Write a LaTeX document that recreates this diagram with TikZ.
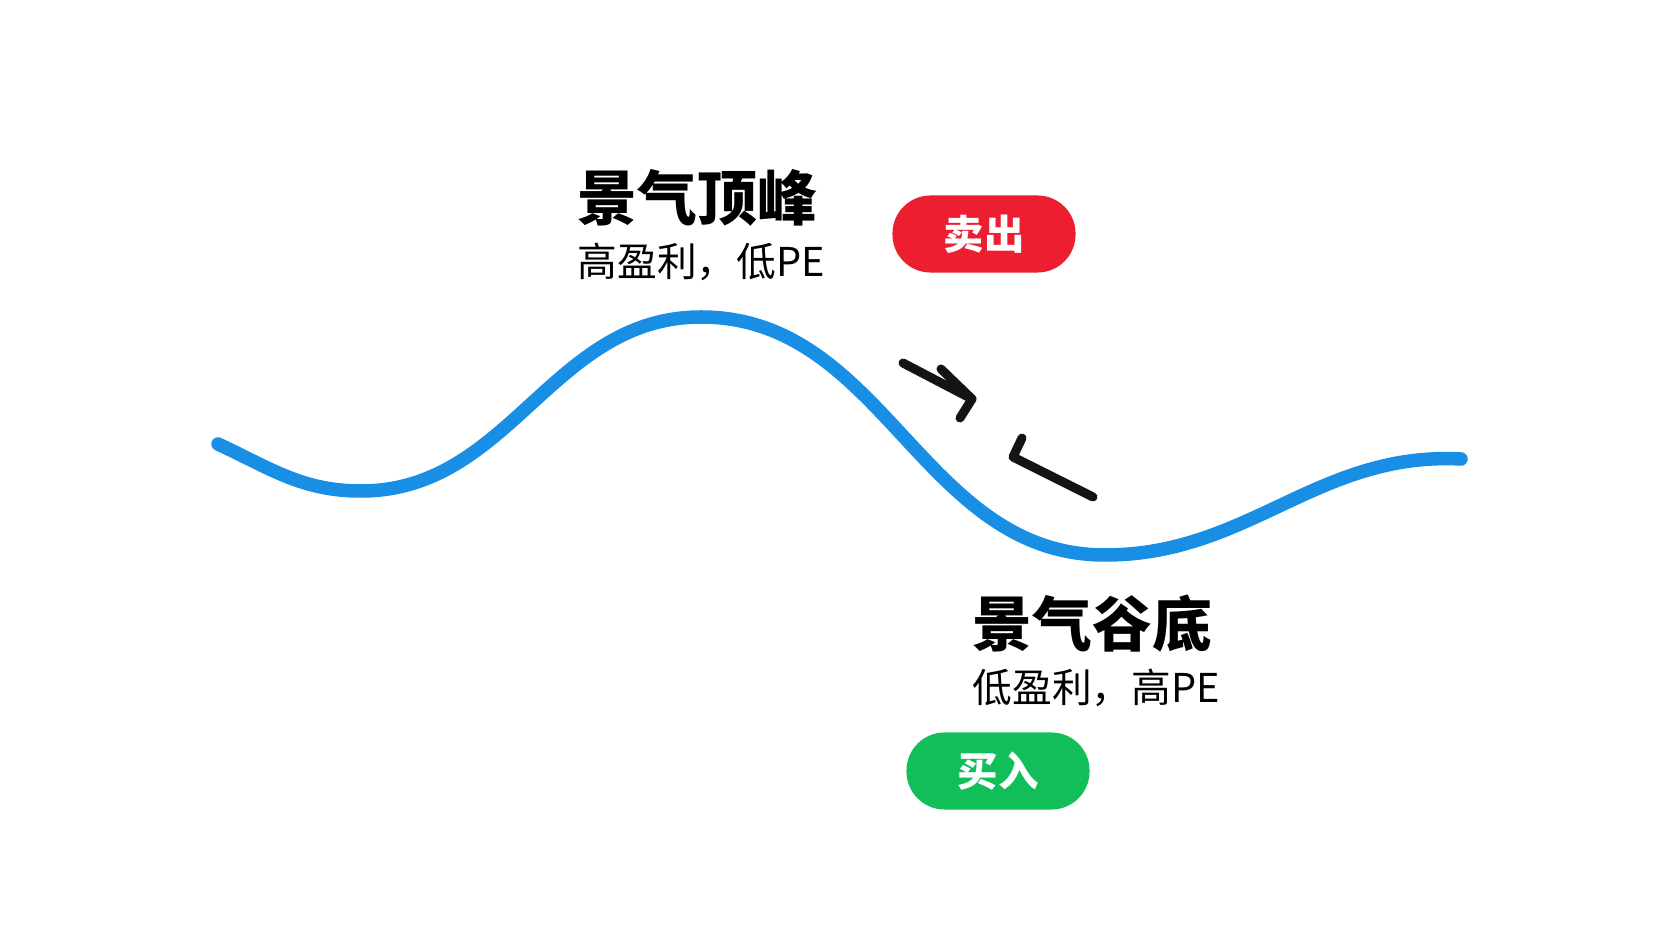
\documentclass[tikz,border=0pt]{standalone}
\usepackage{fontspec}
\newfontfamily\cjk{Noto Sans CJK SC}
\usetikzlibrary{positioning}
\definecolor{waveblue}{RGB}{24,142,228}
\definecolor{sellred}{RGB}{236,30,48}
\definecolor{buygreen}{RGB}{18,190,90}

\begin{document}
\begin{tikzpicture}[
x=0.01cm, y=-0.01cm,
wave/.style = {draw=waveblue, line width=1.35mm, line cap=round},
title/.style = {anchor=west, inner sep=0pt,
                font=\cjk\bfseries\fontsize{17}{20}\selectfont},
sub/.style = {inner sep=0pt,
              font=\cjk\fontsize{11.3}{14}\selectfont},
pill/.style = {fill=#1, rounded corners=3.8mm, text=white,
               minimum width=1.83cm, minimum height=0.77cm, inner sep=0pt,
               font=\cjk\bfseries\fontsize{11.5}{14}\selectfont},
stroke/.style = {draw=black!92, line width=0.9mm,
                 line cap=round, line join=round}
                ]
\fill[white] (0,0) rectangle (1666,937);
\useasboundingbox (0,0) rectangle (1666,937);

%% the wave
\coordinate (w0) at (218,444);
\coordinate (w1) at (361,491);
\coordinate (w2) at (701,317);
\coordinate (w3) at (1105,555);
\coordinate (w4) at (1461,459);
\draw[wave] (w0) to[out=-25,in=180] (w1)
               to[out=0,in=180] (w2)
               to[out=0,in=180] (w3)
               to[out=0,in=177] (w4);

%% peak
\node (peak) [title] at (577,198) {景气顶峰};
\node (peaksub) [sub, below=1.5mm of peak.south west, anchor=north west]
      {高盈利，低PE};
\node (sell) [pill=sellred] at (984,234) {卖出};

%% trough
\node (trough) [title] at (972,624) {景气谷底};
\node (troughsub) [sub, below=1.5mm of trough.south west, anchor=north west]
      {低盈利，高PE};
\node (buy) [pill=buygreen] at (998,771) {买入};

%% hand drawn marks
\coordinate (a0) at (903,363);
\coordinate (a1) at (972,399);
\coordinate (a2) at (941,369);
\coordinate (a3) at (960,418);
\draw[stroke] (a0) -- (a1);
\draw[stroke] (a2) -- (a1) -- (a3);
\coordinate (b0) at (1022,438);
\coordinate (b1) at (1013,457);
\coordinate (b2) at (1093,497);
\draw[stroke] (b0) -- (b1) -- (b2);
\end{tikzpicture}
\end{document}
